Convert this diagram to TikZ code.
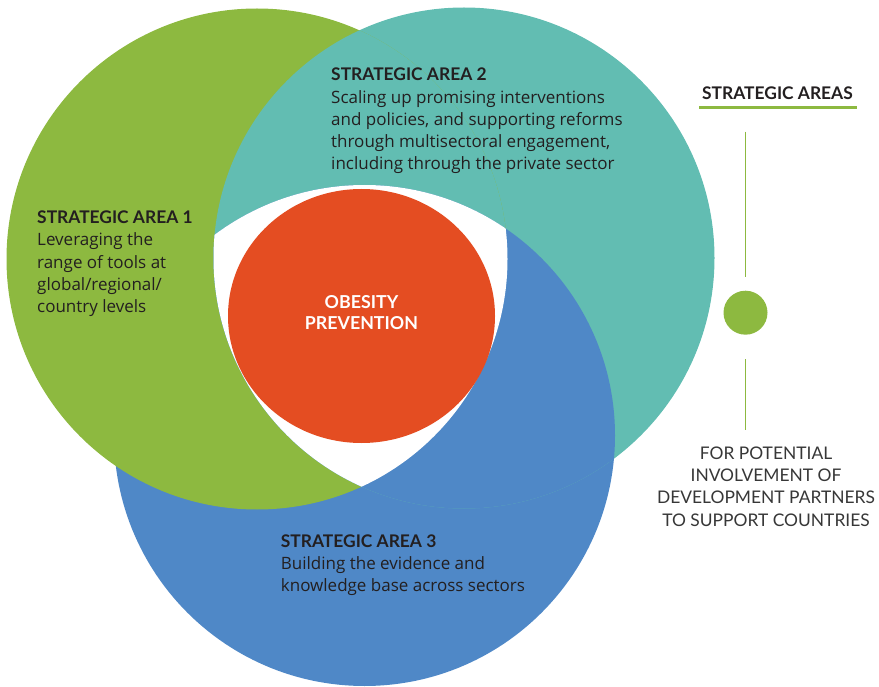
\documentclass[tikz,border=0pt]{standalone}
\usepackage{fontspec}
\setmainfont{Lato}
\newfontfamily\latofont{Lato}
\newfontfamily\bodyfont{Open Sans}
\definecolor{cgreen}{RGB}{141,185,64}
\definecolor{cteal}{RGB}{98,189,178}
\definecolor{cblue}{RGB}{79,136,199}
\definecolor{corange}{RGB}{228,77,34}
\definecolor{cdark}{RGB}{35,31,32}
\definecolor{cgray}{RGB}{55,55,55}
\newcommand{\areatitle}[1]{{\latofont\fontsize{17.4}{22.3}\selectfont\bfseries #1}}
\begin{document}
\begin{tikzpicture}[x=1pt,y=-1pt,
  areatext/.style={font=\bodyfont\fontsize{17.0}{22.3}\selectfont, text=cdark, inner sep=0pt, align=left, anchor=base west},
  centertext/.style={font=\fontsize{17.4}{22.3}\selectfont, inner sep=0pt, align=center, anchor=base},
  thinline/.style={draw=cgreen, line width=1.3pt}]
\useasboundingbox (0,0) rectangle (879,687);
\coordinate (cG) at (257,259);
\coordinate (cT) at (464,258);
\coordinate (cB) at (364.5,435.5);
\def\R{250.5}
% base discs
\fill[cblue] (cB) circle[radius=\R];
\fill[cteal] (cT) circle[radius=\R];
\fill[cgreen] (cG) circle[radius=\R];
% cyclic overlaps
\begin{scope}
  \clip (cT) circle[radius=\R];
  \fill[cteal] (cG) circle[radius=\R];
\end{scope}
\begin{scope}
  \clip (cB) circle[radius=\R];
  \fill[cblue] (cT) circle[radius=\R];
\end{scope}
\begin{scope}
  \clip (cT) circle[radius=\R];
  \clip (cB) circle[radius=\R];
  \fill[white] (cG) circle[radius=\R];
\end{scope}
% centre
\fill[corange] (361.5,316) ellipse[x radius=133.5, y radius=127];
% (multi-line nodes: base anchor = baseline of last line)
\node[centertext, text=white, font=\fontsize{17.8}{21.7}\selectfont\bfseries] (ob) at (361.5,330) {OBESITY\\PREVENTION};
% area texts
\node[areatext] (a1) at (37,312.7) {\areatitle{STRATEGIC AREA 1}\\Leveraging the\\range of tools at\\global/regional/\\country levels};
\node[areatext] (a2) at (331,170) {\areatitle{STRATEGIC AREA 2}\\Scaling up promising interventions\\and policies, and supporting reforms\\through multisectoral engagement,\\including through the private sector};
\node[areatext] (a3) at (280.7,591.7) {\areatitle{STRATEGIC AREA 3}\\Building the evidence and\\knowledge base across sectors};
% legend
\node[centertext, text=cdark, font=\fontsize{17.4}{22.3}\selectfont\bfseries] (sa) at (777.5,100) {STRATEGIC AREAS};
\coordinate (ulA) at (699,107.6);
\coordinate (ulB) at (857,107.6);
\draw[cgreen, line width=3.3pt] (ulA) -- (ulB);
\node[circle, fill=cgreen, minimum size=44pt, inner sep=0pt] (dot) at (745.5,312.7) {};
\coordinate (l1a) at (745.5,131.7);
\coordinate (l1b) at (745.5,276.7);
\coordinate (l2a) at (745.5,359.3);
\coordinate (l2b) at (745.5,430);
\draw[thinline] (l1a) -- (l1b);
\draw[thinline] (l2a) -- (l2b);
\node[centertext, text=cgray] (fp) at (766,526) {FOR POTENTIAL\\INVOLVEMENT OF\\DEVELOPMENT PARTNERS\\TO SUPPORT COUNTRIES};
\end{tikzpicture}
\end{document}
